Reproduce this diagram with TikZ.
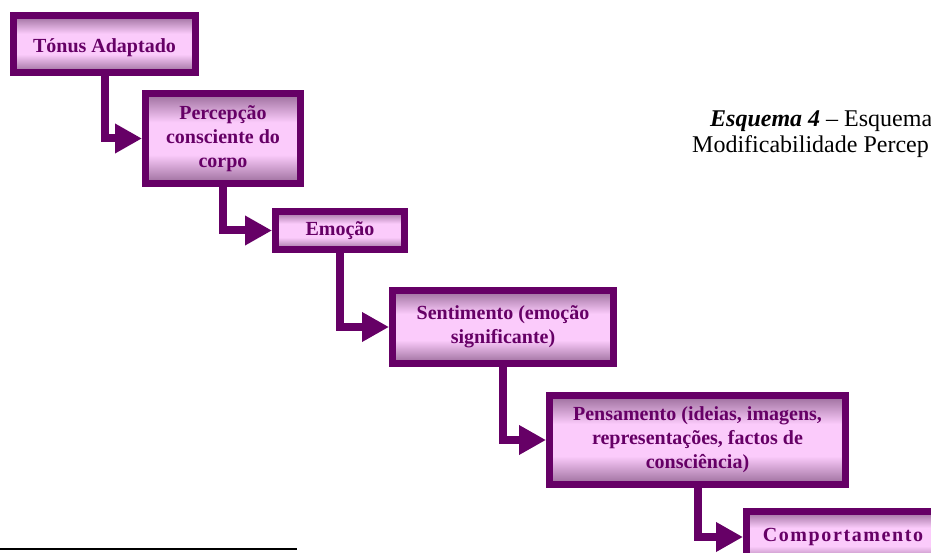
\documentclass[tikz,border=0pt]{standalone}
\usepackage{fontspec}
\setmainfont{Liberation Serif}
\usetikzlibrary{arrows.meta}
\definecolor{plum}{HTML}{660066}
\definecolor{bxdark}{HTML}{9A6C9A}
\definecolor{bxlight}{HTML}{FBCBFB}
% shading runs from the darker mauve edges to a pale pink band in the middle
\pgfdeclareverticalshading{boxshade}{100bp}{color(0bp)=(bxdark); color(25bp)=(bxdark); color(41bp)=(bxlight); color(59bp)=(bxlight); color(75bp)=(bxdark); color(100bp)=(bxdark)}
\tikzset{
  stage/.style={draw=plum, line width=7pt, shading=boxshade, text=plum,
    font=\fontsize{20}{24}\selectfont\bfseries, align=center, inner sep=0pt},
  conn/.style={draw=plum, line width=8pt,
    -{Triangle[length=27pt,width=28pt]}},
  caption/.style={font=\fontsize{24}{28}\selectfont, anchor=base west, inner sep=0pt}
}
\begin{document}
\begin{tikzpicture}[x=1pt,y=-1pt]
\useasboundingbox (0,0) rectangle (931,553);
\clip (0,0) rectangle (931,553);
\fill[white] (0,0) rectangle (931,553);

% stages of the cascade
\node[stage, minimum width=182pt, minimum height=57pt] (b1) at (104.5,44) {\rule{0pt}{22pt}Tónus Adaptado};
\node[stage, minimum width=155pt, minimum height=90pt] (b2) at (223,138.5) {Percepção\\consciente do\\corpo};
\node[stage, minimum width=129pt, minimum height=38pt] (b3) at (340,230.5) {Emoção};
\node[stage, minimum width=221pt, minimum height=73pt] (b4) at (503,327) {Sentimento (emoção\\significante)};
\node[stage, minimum width=296pt, minimum height=89pt] (b5) at (697.5,440) {Pensamento (ideias, imagens,\\representações, factos de\\consciência)};
\node[stage, minimum width=193pt, minimum height=51pt] (b6) at (843,537) {\addfontfeatures{LetterSpace=8}Comportamento};

% elbow connectors from each stage to the next
\draw[conn] (b1.south) |- (b2.west);
\draw[conn] (b2.south) |- (b3.west);
\draw[conn] (b3.south) |- (b4.west);
\draw[conn] (b4.south) |- (b5.west);
\draw[conn] (b5.south) |- (b6.west);

% caption
\node[caption] (cap1) at (710,127) {\textbf{\textit{Esquema 4}} – Esquema};
\node[caption] (cap2) at (692,153) {Modificabilidade Percep};

% footnote rule
\draw[line width=2pt] (0,549) -- (297,549);
\end{tikzpicture}
\end{document}
